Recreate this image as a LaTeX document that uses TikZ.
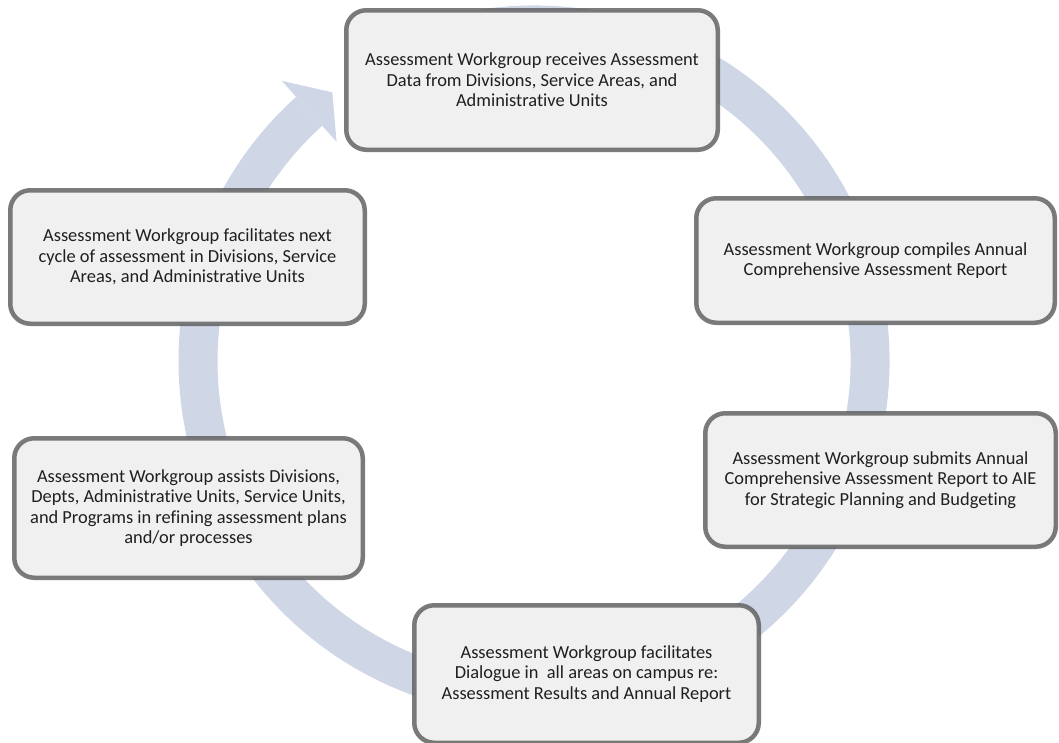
\documentclass[tikz,border=0pt]{standalone}
\usepackage{fontspec}
\setmainfont{Carlito}[Ligatures=NoCommon]
\usetikzlibrary{calc}
\definecolor{ringc}{RGB}{207,214,230}
\definecolor{boxfill}{RGB}{240,240,240}
\definecolor{boxline}{RGB}{90,90,90}
\begin{document}
\begin{tikzpicture}[x=1pt,y=-1pt,
  stagebox/.style={draw=boxline, draw opacity=0.8, line width=4.5pt, fill=boxfill,
    rounded corners=20pt, align=center, inner sep=0pt, text=black!88,
    font=\fontsize{18.4}{20.6}\selectfont},
  ringarc/.style={draw=ringc, line width=39pt},
]
\useasboundingbox (0,0) rectangle (1059,742);
\clip (0,0) rectangle (1059,742);
\coordinate (O) at (534,361);
% circular arrow ring
\draw[ringarc] ($(O)+(-105:336)$) arc[start angle=-105, end angle=228, radius=336];
\fill[ringc] ($(O)+(-132:377)$) -- ($(O)+(-126.9:336)$) -- ($(O)+(-132:295)$) -- cycle;
% stages
\node[stagebox, minimum width=371.5pt, minimum height=139.5pt] (a) at (532,80)
  {Assessment Workgroup receives Assessment\\Data from Divisions, Service Areas, and\\Administrative Units};
\node[stagebox, minimum width=358.5pt, minimum height=124.5pt] (b) at (875.5,260.5)
  {Assessment Workgroup compiles Annual\\Comprehensive Assessment Report};
\node[stagebox, minimum width=350.5pt, minimum height=133.5pt] (c) at (880.5,480)
  {Assessment Workgroup submits Annual\\Comprehensive Assessment Report to AIE\\for Strategic Planning and Budgeting};
\node[stagebox, minimum width=344.5pt, minimum height=137.5pt] (d) at (586.5,674)
  {Assessment Workgroup facilitates\\Dialogue in\ \ all areas on campus re:\\Assessment Results and Annual Report};
\node[stagebox, minimum width=348.5pt, minimum height=139.5pt] (e) at (188.5,508)
  {Assessment Workgroup assists Divisions,\\Depts, Administrative Units, Service Units,\\and Programs in refining assessment plans\\and/or processes};
\node[stagebox, minimum width=354.5pt, minimum height=133.5pt] (f) at (187.5,257)
  {Assessment Workgroup facilitates next\\cycle of assessment in Divisions, Service\\Areas, and Administrative Units};
\end{tikzpicture}
\end{document}
